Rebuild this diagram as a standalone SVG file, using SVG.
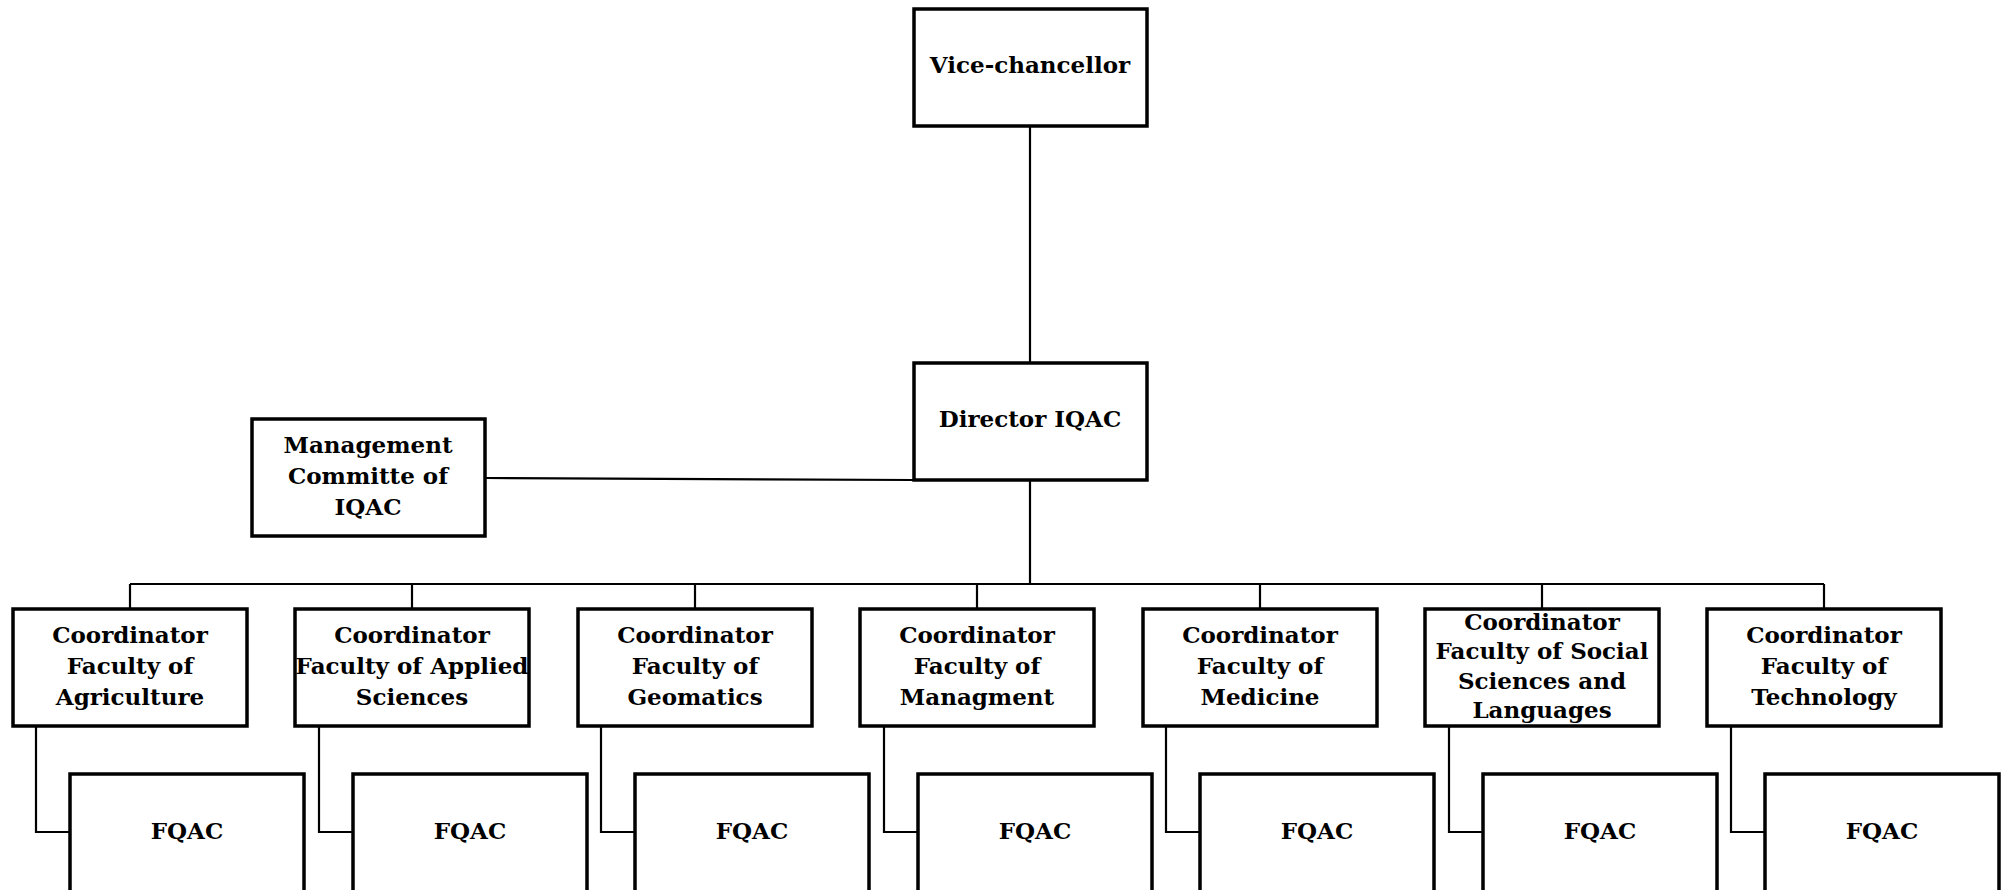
<svg xmlns="http://www.w3.org/2000/svg" width="2004" height="890" viewBox="0 0 2004 890">
<style>
.box{fill:#fff;stroke:#000;stroke-width:3.5}
.c{fill:none;stroke:#000;stroke-width:2.2}
text{font-family:"DejaVu Serif","Liberation Serif",serif;font-weight:bold;font-size:23px;fill:#000;text-anchor:middle}
</style>
<rect width="2004" height="890" fill="#fff"/>
<g id="connectors">
<line class="c" x1="1030" y1="127" x2="1030" y2="363"/>
<line class="c" x1="1030" y1="480" x2="1030" y2="584"/>
<line class="c" x1="486" y1="478" x2="914" y2="480"/>
<line class="c" x1="130" y1="584" x2="1824" y2="584"/>
<line class="c" x1="130" y1="584" x2="130" y2="609"/>
<line class="c" x1="412" y1="584" x2="412" y2="609"/>
<line class="c" x1="695" y1="584" x2="695" y2="609"/>
<line class="c" x1="977" y1="584" x2="977" y2="609"/>
<line class="c" x1="1260" y1="584" x2="1260" y2="609"/>
<line class="c" x1="1542" y1="584" x2="1542" y2="609"/>
<line class="c" x1="1824" y1="584" x2="1824" y2="609"/>
<polyline class="c" points="36,726 36,832 70,832"/>
<polyline class="c" points="319,726 319,832 353,832"/>
<polyline class="c" points="601,726 601,832 635,832"/>
<polyline class="c" points="884,726 884,832 918,832"/>
<polyline class="c" points="1166,726 1166,832 1200,832"/>
<polyline class="c" points="1449,726 1449,832 1483,832"/>
<polyline class="c" points="1731,726 1731,832 1765,832"/>
</g>
<g id="vc"><rect class="box" x="914" y="9" width="233" height="117"/><text x="1030" y="73">Vice-chancellor</text></g>
<g id="director"><rect class="box" x="914" y="363" width="233" height="117"/><text x="1030" y="427">Director IQAC</text></g>
<g id="mgmt"><rect class="box" x="252" y="419" width="233" height="117"/><text x="368" y="453">Management</text><text x="368" y="484">Committe of</text><text x="368" y="515">IQAC</text></g>
<g id="coord1"><rect class="box" x="13" y="609" width="234" height="117"/><text x="130" y="643">Coordinator</text><text x="130" y="674">Faculty of</text><text x="130" y="705">Agriculture</text></g>
<g id="coord2"><rect class="box" x="295" y="609" width="234" height="117"/><text x="412" y="643">Coordinator</text><text x="412" y="674">Faculty of Applied</text><text x="412" y="705">Sciences</text></g>
<g id="coord3"><rect class="box" x="578" y="609" width="234" height="117"/><text x="695" y="643">Coordinator</text><text x="695" y="674">Faculty of</text><text x="695" y="705">Geomatics</text></g>
<g id="coord4"><rect class="box" x="860" y="609" width="234" height="117"/><text x="977" y="643">Coordinator</text><text x="977" y="674">Faculty of</text><text x="977" y="705">Managment</text></g>
<g id="coord5"><rect class="box" x="1143" y="609" width="234" height="117"/><text x="1260" y="643">Coordinator</text><text x="1260" y="674">Faculty of</text><text x="1260" y="705">Medicine</text></g>
<g id="coord6"><rect class="box" x="1425" y="609" width="234" height="117"/><text x="1542" y="630">Coordinator</text><text x="1542" y="659">Faculty of Social</text><text x="1542" y="689">Sciences and</text><text x="1542" y="718">Languages</text></g>
<g id="coord7"><rect class="box" x="1707" y="609" width="234" height="117"/><text x="1824" y="643">Coordinator</text><text x="1824" y="674">Faculty of</text><text x="1824" y="705">Technology</text></g>
<g id="fqac1"><rect class="box" x="70" y="774" width="234" height="130"/><text x="187" y="839">FQAC</text></g>
<g id="fqac2"><rect class="box" x="353" y="774" width="234" height="130"/><text x="470" y="839">FQAC</text></g>
<g id="fqac3"><rect class="box" x="635" y="774" width="234" height="130"/><text x="752" y="839">FQAC</text></g>
<g id="fqac4"><rect class="box" x="918" y="774" width="234" height="130"/><text x="1035" y="839">FQAC</text></g>
<g id="fqac5"><rect class="box" x="1200" y="774" width="234" height="130"/><text x="1317" y="839">FQAC</text></g>
<g id="fqac6"><rect class="box" x="1483" y="774" width="234" height="130"/><text x="1600" y="839">FQAC</text></g>
<g id="fqac7"><rect class="box" x="1765" y="774" width="234" height="130"/><text x="1882" y="839">FQAC</text></g>
</svg>
